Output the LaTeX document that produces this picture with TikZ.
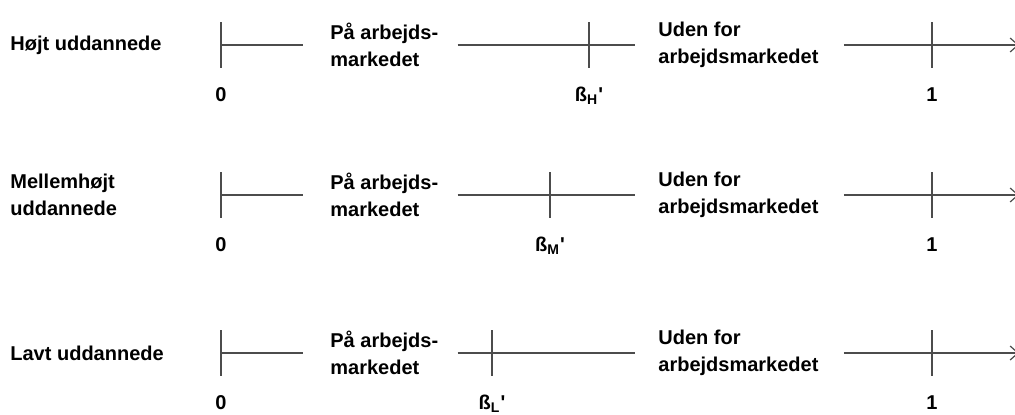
\documentclass[tikz,border=0pt]{standalone}
\usepackage{fontspec}
\setmainfont{Liberation Sans}
\usetikzlibrary{arrows.meta, positioning}
\tikzset{group/.style={anchor=west, align=left, inner sep=0pt}}
\tikzset{zone/.style={anchor=west, align=left, inner sep=0pt}}
\tikzset{axis/.style={draw=black!70, line width=0.6pt}}
\tikzset{value/.style={anchor=base, inner sep=0pt}}

\begin{document}
\begin{tikzpicture}[x=0.5pt, y=-0.5pt, font=\fontsize{10}{13.5}\selectfont\bfseries]
\useasboundingbox (0,0) rectangle (1015,414);
\foreach \y/\grp/\b/\bx/\name in {45/{Højt uddannede}/H/589/high,
    195/{Mellemhøjt\\uddannede}/M/550/mid,
    353/{Lavt uddannede}/L/492/low} {
  \node[group] (\name) at (10,\y) {\grp};
  \coordinate (\name-0) at (221,\y);
  \coordinate (\name-b) at (\bx,\y);
  \coordinate (\name-1) at (932,\y);
  \coordinate (\name-end) at (1019,\y);
  \node[zone] (\name-on) at (330,\y) {På arbejds-\\markedet};
  \node[zone] (\name-off) at (658,\y) {Uden for\\arbejdsmarkedet};
  % axis pieces
  \draw[axis] (\name-0) -- ([xshift=-13.5pt]\name-on.west);
  \draw[axis] ([xshift=9.5pt]\name-on.east) -- ([xshift=-11.5pt]\name-off.west);
  \draw[axis, -{Straight Barb[length=4pt, width=7pt]}] ([xshift=12.5pt]\name-off.east) -- (\name-end);
  % ticks
  \foreach \t in {0,b,1}
    \draw[axis] ([yshift=11.5pt]\name-\t) -- ([yshift=-11.5pt]\name-\t);
  \node[value] (\name-v0) at ([yshift=-28pt]\name-0) {0};
  \node[value] (\name-vb) at ([yshift=-28pt]\name-b) {ß\textsubscript{\b}\textquotesingle};
  \node[value] (\name-v1) at ([yshift=-28pt]\name-1) {1};
}
\end{tikzpicture}
\end{document}
